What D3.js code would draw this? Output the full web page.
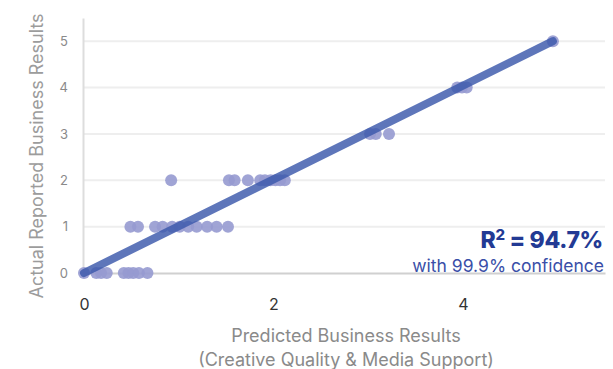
<!DOCTYPE html>
<html>
<head>
<meta charset="utf-8">
<script src="https://cdn.jsdelivr.net/npm/d3@7"></script>
<style>
  html, body { margin: 0; padding: 0; background: #fff; }
  svg { display: block; }
  text { font-family: Inter, "Open Sans", sans-serif; }
</style>
</head>
<body>
<svg id="chart" width="613" height="369"></svg>
<script>
// Predicted vs. actual business results, one entry per campaign
const predicted = [
  0, 0.13, 0.18, 0.24, 0.42, 0.47, 0.52, 0.58, 0.67,
  0.49, 0.57, 0.75, 0.83, 0.93, 1.01, 1.10, 1.19, 1.30, 1.40, 1.52,
  0.92, 1.53, 1.59, 1.73, 1.86, 1.91, 1.97, 2.02, 2.07, 2.12,
  3.02, 3.08, 3.22,
  3.94, 3.99, 4.04,
  4.95
];
const actual = [
  0, 0, 0, 0, 0, 0, 0, 0, 0,
  1, 1, 1, 1, 1, 1, 1, 1, 1, 1, 1,
  2, 2, 2, 2, 2, 2, 2, 2, 2, 2,
  3, 3, 3,
  4, 4, 4,
  5
];
// Fitted line endpoints (predicted, actual)
const fitX = [0, 4.95];
const fitY = [0, 5];
const xTicks = [0, 2, 4];
const yTicks = [0, 1, 2, 3, 4, 5];
const rSquared = "94.7%";
const confidence = "99.9%";

const svg = d3.select("#chart");
const x = d3.scaleLinear().domain([0, 5.5]).range([84, 605]);
const y = d3.scaleLinear().domain([0, 5.5]).range([273, 18]);

// horizontal gridlines
svg.append("g")
  .selectAll("line")
  .data(yTicks.filter(d => d > 0))
  .join("line")
  .attr("x1", x(0)).attr("x2", x(5.5))
  .attr("y1", d => y(d)).attr("y2", d => y(d))
  .attr("stroke", "#eeeeee").attr("stroke-width", 2);

// y axis
const yAxis = svg.append("g")
  .attr("transform", `translate(${x(0) - 1},0)`)
  .call(d3.axisLeft(y).tickValues(yTicks).tickSize(0).tickPadding(15).tickFormat(d3.format("d")));
yAxis.select(".domain").attr("stroke", "#dddddd").attr("stroke-width", 2);
yAxis.selectAll("text").attr("fill", "#8a8a8a").attr("font-size", 13);

// x axis
const xAxis = svg.append("g")
  .attr("transform", `translate(0,${y(0)})`)
  .call(d3.axisBottom(x).tickValues(xTicks).tickSize(0).tickPadding(26).tickFormat(d3.format("d")));
xAxis.select(".domain").attr("stroke", "#d0d0d0").attr("stroke-width", 2);
xAxis.selectAll("text").attr("fill", "#333").attr("font-size", 16);

// points
svg.append("g")
  .selectAll("circle")
  .data(predicted.map((p, i) => [p, actual[i]]))
  .join("circle")
  .attr("cx", d => x(d[0]))
  .attr("cy", d => y(d[1]))
  .attr("r", 6)
  .attr("fill", "#969ad0")
  .attr("fill-opacity", 0.9);

// fit line
svg.append("line")
  .attr("x1", x(fitX[0])).attr("y1", y(fitY[0]))
  .attr("x2", x(fitX[1])).attr("y2", y(fitY[1]))
  .attr("stroke", "#3b58ab").attr("stroke-opacity", 0.82)
  .attr("stroke-width", 8).attr("stroke-linecap", "round");

// axis titles
svg.append("text")
  .attr("transform", `translate(43,156) rotate(-90)`)
  .attr("text-anchor", "middle")
  .attr("fill", "#9c9c9c").attr("font-size", 18)
  .text("Actual Reported Business Results");

const xt = svg.append("text")
  .attr("text-anchor", "middle")
  .attr("fill", "#8a8a8a").attr("font-size", 18);
xt.append("tspan").attr("x", 346).attr("y", 342).text("Predicted Business Results");
xt.append("tspan").attr("x", 346).attr("y", 366).text("(Creative Quality & Media Support)");

// annotation
const ann = svg.append("text")
  .attr("x", 603).attr("y", 248)
  .attr("text-anchor", "end")
  .attr("fill", "#233a94").attr("font-size", 23).attr("font-weight", 800)
  .attr("letter-spacing", -0.3);
ann.append("tspan").text("R");
ann.append("tspan").attr("font-size", 15).attr("dy", -8).text("2");
ann.append("tspan").attr("dy", 8).text(" = " + rSquared);

svg.append("text")
  .attr("x", 604).attr("y", 272)
  .attr("text-anchor", "end")
  .attr("fill", "#3a4fa8").attr("font-size", 17.5)
  .text(`with ${confidence} confidence`);
</script>
</body>
</html>
